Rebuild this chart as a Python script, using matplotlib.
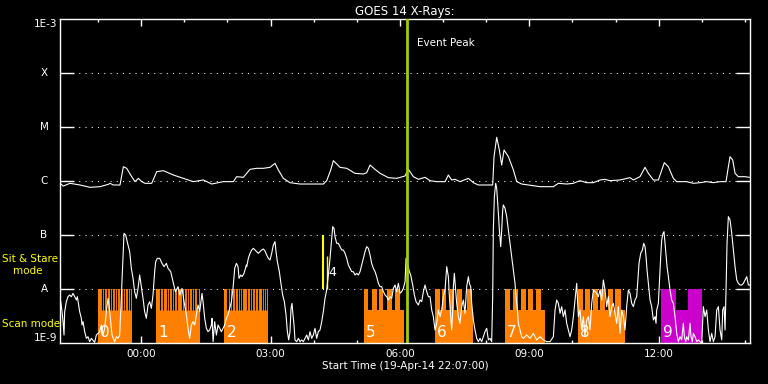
import numpy as np
import matplotlib
matplotlib.use("Agg")
import matplotlib.pyplot as plt
from matplotlib.ticker import FixedLocator, NullLocator

# time in hours since 2014-04-20 00:00 UT, flux as log10(W/m^2)
long_t = [-1.883, -1.806, -1.651, -1.419, -1.187, -0.955, -0.762, -0.723, -0.646, -0.492,
          -0.414, -0.337, -0.221, -0.144, -0.066, 0.011, 0.088, 0.243, 0.359, 0.513,
          0.745, 0.977, 1.209, 1.441, 1.634, 1.904, 2.136, 2.213, 2.368, 2.523,
          2.677, 2.832, 2.987, 3.103, 3.180, 3.296, 3.450, 3.682, 3.992, 4.224,
          4.301, 4.394, 4.456, 4.610, 4.765, 4.958, 5.151, 5.229, 5.306, 5.422,
          5.538, 5.731, 5.924, 6.117, 6.195, 6.311, 6.427, 6.581, 6.697, 6.852,
          7.045, 7.122, 7.199, 7.277, 7.393, 7.586, 7.702, 7.817, 8.011, 8.150,
          8.181, 8.243, 8.305, 8.359, 8.413, 8.514, 8.630, 8.707, 8.823, 9.248,
          9.557, 9.673, 9.866, 10.021, 10.175, 10.330, 10.485, 10.639, 10.755, 10.871,
          11.103, 11.335, 11.412, 11.566, 11.682, 11.760, 11.876, 11.992, 12.130, 12.223,
          12.339, 12.417, 12.649, 12.803, 12.958, 13.113, 13.267, 13.422, 13.561, 13.615,
          13.654, 13.715, 13.770, 13.847, 14.001, 14.102]
long_log = [-6.043, -6.093, -6.043, -6.074, -6.117, -6.105, -6.062, -6.043, -6.074, -6.074,
            -5.735, -5.765, -5.920, -6.012, -5.951, -6.012, -6.043, -6.043, -5.827, -5.809,
            -5.889, -5.951, -6.012, -5.981, -6.056, -6.012, -6.012, -5.920, -5.932, -5.784,
            -5.765, -5.765, -5.747, -5.673, -5.796, -5.951, -6.031, -6.056, -6.056, -6.056,
            -5.994, -5.796, -5.623, -5.747, -5.765, -5.858, -5.870, -5.846, -5.704, -5.784,
            -5.858, -5.938, -5.951, -5.907, -5.784, -5.920, -5.969, -5.932, -5.994, -6.012,
            -6.012, -5.889, -5.981, -5.969, -6.012, -5.951, -6.031, -6.074, -6.074, -6.074,
            -5.549, -5.191, -5.426, -5.704, -5.426, -5.549, -5.796, -6.012, -6.056, -6.105,
            -6.105, -6.043, -6.056, -6.043, -5.994, -6.031, -6.031, -5.981, -5.969, -5.994,
            -5.981, -5.938, -5.981, -5.920, -5.747, -5.858, -5.981, -5.981, -5.660, -5.735,
            -5.951, -6.012, -6.012, -6.043, -6.031, -6.012, -6.031, -6.012, -6.012, -5.735,
            -5.549, -5.611, -5.858, -5.920, -5.920, -5.932]

short_t = [-1.867, -1.836, -1.813, -1.790, -1.775, -1.736, -1.697, -1.659, -1.620, -1.581,
           -1.543, -1.504, -1.481, -1.450, -1.427, -1.388, -1.373, -1.349, -1.311, -1.272,
           -1.234, -1.195, -1.156, -1.079, -1.040, -0.963, -0.925, -0.886, -0.847, -0.808,
           -0.770, -0.747, -0.708, -0.677, -0.615, -0.577, -0.538, -0.499, -0.476, -0.461,
           -0.422, -0.399, -0.360, -0.306, -0.267, -0.229, -0.190, -0.152, -0.113, -0.074,
           -0.036, 0.003, 0.042, 0.080, 0.119, 0.158, 0.196, 0.235, 0.273, 0.312,
           0.335, 0.374, 0.428, 0.482, 0.529, 0.583, 0.622, 0.684, 0.738, 0.792,
           0.854, 0.893, 0.946, 0.993, 1.047, 1.085, 1.124, 1.163, 1.202, 1.240,
           1.279, 1.317, 1.356, 1.410, 1.434, 1.472, 1.511, 1.550, 1.588, 1.627,
           1.643, 1.666, 1.704, 1.743, 1.782, 1.859, 1.936, 1.975, 2.013, 2.052,
           2.091, 2.129, 2.168, 2.207, 2.245, 2.268, 2.307, 2.338, 2.384, 2.438,
           2.446, 2.484, 2.523, 2.562, 2.600, 2.639, 2.677, 2.716, 2.755, 2.793,
           2.832, 2.871, 2.909, 2.948, 2.987, 3.025, 3.064, 3.103, 3.126, 3.157,
           3.203, 3.234, 3.280, 3.319, 3.358, 3.389, 3.420, 3.450, 3.474, 3.497,
           3.512, 3.543, 3.566, 3.605, 3.644, 3.682, 3.721, 3.760, 3.837, 3.876,
           3.914, 3.953, 3.991, 4.030, 4.069, 4.107, 4.146, 4.185, 4.223, 4.262,
           4.301, 4.339, 4.378, 4.417, 4.440, 4.471, 4.494, 4.533, 4.571, 4.610,
           4.649, 4.687, 4.726, 4.765, 4.803, 4.842, 4.881, 4.919, 4.958, 4.997,
           5.035, 5.074, 5.112, 5.151, 5.190, 5.228, 5.267, 5.306, 5.344, 5.383,
           5.422, 5.460, 5.499, 5.538, 5.576, 5.615, 5.654, 5.692, 5.731, 5.770,
           5.808, 5.847, 5.886, 5.924, 5.963, 6.002, 6.040, 6.079, 6.118, 6.141,
           6.172, 6.218, 6.249, 6.295, 6.334, 6.373, 6.427, 6.465, 6.504, 6.543,
           6.581, 6.620, 6.659, 6.697, 6.736, 6.774, 6.813, 6.852, 6.890, 6.929,
           6.968, 7.006, 7.045, 7.084, 7.122, 7.146, 7.176, 7.200, 7.223, 7.238,
           7.261, 7.284, 7.315, 7.354, 7.392, 7.431, 7.470, 7.508, 7.547, 7.586,
           7.609, 7.640, 7.663, 7.702, 7.740, 7.779, 7.818, 7.856, 7.895, 7.934,
           7.972, 8.011, 8.050, 8.088, 8.127, 8.150, 8.165, 8.189, 8.220, 8.243,
           8.282, 8.305, 8.336, 8.359, 8.382, 8.397, 8.436, 8.475, 8.513, 8.552,
           8.590, 8.629, 8.668, 8.691, 8.722, 8.745, 8.784, 8.822, 8.861, 8.938,
           9.016, 9.093, 9.170, 9.248, 9.325, 9.402, 9.480, 9.557, 9.596, 9.634,
           9.673, 9.712, 9.750, 9.789, 9.828, 9.866, 9.905, 9.944, 9.982, 10.021,
           10.059, 10.098, 10.137, 10.175, 10.214, 10.253, 10.291, 10.330, 10.369, 10.407,
           10.446, 10.485, 10.562, 10.600, 10.639, 10.678, 10.716, 10.755, 10.794, 10.832,
           10.871, 10.910, 10.948, 10.987, 11.025, 11.064, 11.103, 11.141, 11.180, 11.219,
           11.257, 11.296, 11.335, 11.373, 11.412, 11.451, 11.489, 11.512, 11.543, 11.582,
           11.621, 11.652, 11.682, 11.706, 11.729, 11.760, 11.799, 11.837, 11.876, 11.915,
           11.938, 11.953, 11.992, 12.015, 12.046, 12.069, 12.100, 12.123, 12.146, 12.170,
           12.193, 12.224, 12.262, 12.301, 12.339, 12.378, 12.417, 12.455, 12.494, 12.533,
           12.571, 12.595, 12.626, 12.649, 12.688, 12.726, 12.749, 12.780, 12.803, 12.842,
           12.881, 12.919, 12.958, 12.997, 13.035, 13.074, 13.113, 13.151, 13.190, 13.229,
           13.267, 13.306, 13.345, 13.383, 13.422, 13.461, 13.484, 13.515, 13.538, 13.561,
           13.584, 13.615, 13.654, 13.693, 13.731, 13.770, 13.809, 13.847, 13.886, 13.925,
           13.963, 14.002, 14.041, 14.079, 14.118]
short_log = [-8.235, -8.420, -8.605, -8.852, -8.420, -8.235, -8.142, -8.111, -8.142, -8.080,
             -8.142, -8.204, -8.142, -8.296, -8.420, -8.543, -8.667, -8.605, -8.790, -8.914,
             -8.883, -8.975, -8.914, -8.988, -8.852, -8.790, -8.667, -8.852, -8.728, -8.420,
             -8.173, -8.296, -8.605, -8.852, -8.975, -8.883, -8.914, -8.852, -8.420, -8.111,
             -7.370, -6.969, -7.000, -7.185, -7.309, -7.617, -7.802, -8.049, -8.173, -7.988,
             -7.741, -7.957, -8.173, -8.420, -8.543, -8.296, -8.235, -8.358, -8.111, -7.679,
             -7.494, -7.432, -7.432, -7.525, -7.586, -7.525, -7.617, -7.679, -7.864, -8.049,
             -7.957, -8.111, -7.988, -8.235, -8.481, -8.728, -8.914, -8.667, -8.605, -8.667,
             -8.481, -8.296, -8.420, -8.080, -8.235, -8.543, -8.728, -8.790, -8.759, -8.667,
             -8.543, -8.975, -8.605, -8.852, -8.667, -8.790, -8.667, -8.543, -8.481, -8.358,
             -8.235, -7.988, -7.617, -7.525, -7.586, -7.802, -7.741, -7.772, -7.710, -7.556,
             -7.586, -7.432, -7.340, -7.278, -7.247, -7.278, -7.309, -7.340, -7.309, -7.278,
             -7.259, -7.296, -7.370, -7.432, -7.463, -7.340, -7.185, -7.123, -7.309, -7.494,
             -7.679, -7.864, -8.111, -8.235, -8.481, -8.790, -8.944, -8.790, -8.358, -8.265,
             -8.420, -8.667, -8.944, -8.975, -8.914, -8.975, -8.944, -8.975, -8.852, -8.944,
             -8.790, -8.914, -8.852, -8.728, -8.914, -8.790, -8.759, -8.605, -8.420, -8.173,
             -8.019, -7.741, -7.432, -7.062, -6.846, -6.877, -7.031, -7.154, -7.154, -7.216,
             -7.278, -7.278, -7.340, -7.432, -7.556, -7.617, -7.679, -7.679, -7.741, -7.710,
             -7.741, -7.679, -7.556, -7.432, -7.309, -7.216, -7.247, -7.370, -7.525, -7.617,
             -7.679, -7.772, -7.895, -7.957, -7.957, -8.049, -8.111, -8.142, -8.204, -8.142,
             -8.173, -7.988, -7.926, -8.049, -7.895, -8.080, -8.049, -7.988, -7.864, -7.432,
             -7.525, -7.679, -7.741, -7.926, -8.111, -8.235, -8.296, -8.204, -8.235, -8.049,
             -7.926, -8.049, -8.142, -8.142, -8.389, -8.512, -8.759, -8.636, -8.389, -8.512,
             -8.389, -8.142, -8.019, -7.586, -7.772, -8.142, -8.512, -8.759, -8.389, -7.957,
             -7.710, -7.957, -8.265, -8.512, -8.636, -8.327, -8.204, -8.451, -7.957, -7.772,
             -7.895, -7.957, -8.265, -8.574, -8.759, -8.914, -8.975, -8.914, -8.975, -8.883,
             -8.790, -8.728, -8.944, -8.914, -8.975, -8.142, -6.907, -6.290, -6.043, -6.136,
             -6.599, -6.907, -7.216, -6.907, -6.537, -6.444, -6.506, -6.660, -6.907, -7.154,
             -7.401, -7.648, -7.895, -8.142, -8.389, -8.636, -8.759, -8.883, -8.914, -8.852,
             -8.914, -8.821, -8.944, -8.883, -8.944, -8.975, -8.975, -8.883, -8.389, -8.204,
             -8.265, -8.451, -8.327, -8.512, -8.389, -8.636, -8.759, -8.883, -8.759, -8.512,
             -8.204, -7.895, -8.512, -8.389, -8.759, -8.512, -8.883, -8.574, -8.512, -8.759,
             -8.265, -8.019, -8.080, -8.142, -8.019, -8.204, -7.833, -8.019, -8.327, -8.142,
             -8.512, -8.327, -8.265, -8.451, -8.636, -8.327, -8.821, -8.389, -8.512, -8.759,
             -8.327, -8.019, -8.080, -8.265, -8.327, -8.204, -8.142, -7.895, -7.525, -7.340,
             -7.278, -7.154, -7.216, -7.401, -7.648, -7.895, -8.204, -8.327, -8.574, -8.512,
             -8.636, -8.389, -8.265, -7.895, -7.401, -7.093, -6.969, -6.938, -7.154, -7.401,
             -7.586, -7.772, -8.019, -8.204, -8.265, -8.512, -8.821, -8.975, -8.883, -8.944,
             -8.636, -8.883, -8.975, -8.883, -8.944, -8.636, -8.883, -8.975, -8.821, -8.883,
             -8.975, -8.944, -8.975, -9.006, -8.327, -8.512, -8.389, -8.759, -8.975, -8.821,
             -8.975, -8.883, -8.389, -8.327, -8.759, -8.944, -8.389, -8.327, -8.759, -8.019,
             -7.154, -6.660, -6.722, -6.969, -7.278, -7.586, -7.833, -7.895, -7.926, -7.926,
             -7.895, -7.833, -7.772, -7.926, -7.926]

# scan-mode rasters
scan_ids = ["0", "1", "2", "5", "6", "7", "8", "9"]
scan_start = [-0.995, 0.343, 1.927, 5.166, 6.813, 8.436, 10.136, 12.046]
scan_end = [-0.220, 1.363, 2.940, 6.094, 7.705, 9.363, 11.218, 13.011]
scan_kind = ["scan", "scan", "scan", "scan", "scan", "scan", "scan", "other"]
scan_tall = [
    [(-0.995, -0.220)],
    [(0.343, 1.363)],
    [(1.927, 2.940)],
    [(5.166, 5.258), (5.351, 5.456), (5.514, 5.618), (5.699, 5.815), (5.885, 6.001)],
    [(6.813, 6.917), (6.975, 7.079), (7.149, 7.242), (7.323, 7.450), (7.543, 7.659)],
    [(8.436, 8.552), (8.621, 8.737), (8.795, 8.911), (8.969, 9.085), (9.155, 9.259)],
    [(10.136, 10.245), (10.291, 10.407), (10.465, 10.593), (10.639, 10.755),
     (10.813, 10.929), (10.987, 11.114)],
    [(12.046, 12.401), (12.686, 13.011)],
]
scan_gaps = [
    [-0.909, -0.863, -0.793, -0.735, -0.677, -0.619, -0.561, -0.492, -0.434, -0.376, -0.318, -0.260],
    [0.436, 0.512, 0.591, 0.645, 0.721, 0.768, 0.823, 0.953, 0.999, 1.055, 1.115, 1.171,
     1.231, 1.287, 1.324],
    [1.983, 2.020, 2.059, 2.112, 2.175, 2.238, 2.291, 2.344, 2.446, 2.523, 2.576, 2.639,
     2.701, 2.794, 2.855, 2.901],
    [], [], [], [], [],
]
scan_low = 4.1e-9
scan_high = 1e-8

# sit & stare observations
stare_t = [4.216, 4.309]
stare_top = [1e-7, 4.1e-8]
stare_width = [1.5, 1.0]

event_t = 6.152

level_vals = [1e-8, 1e-7, 1e-6, 1e-5, 1e-4]
level_names = ["A", "B", "C", "M", "X"]
hour_ticks = [0, 3, 6, 9, 12]
hour_labels = ["00:00", "03:00", "06:00", "09:00", "12:00"]

kind_colors = {"scan": "#ff8000", "other": "#cc00cc"}

fig = plt.figure(figsize=(7.68, 3.84), dpi=100, facecolor="black")
ax = fig.add_axes([60 / 768, 41 / 384, 690 / 768, 324 / 384], facecolor="black")
ax.set_yscale("log")
ax.set_xlim(-1.8833, 14.1167)
ax.set_ylim(1e-9, 1e-3)

for v in level_vals:
    ax.axhline(v, color="white", lw=0.75, ls=(0, (1, 5)), zorder=1)

for i in range(len(scan_ids)):
    c = kind_colors[scan_kind[i]]
    ax.bar(scan_start[i], scan_low - 1e-9, width=scan_end[i] - scan_start[i],
           bottom=1e-9, align="edge", color=c, linewidth=0, zorder=2)
    for s, e in scan_tall[i]:
        ax.bar(s, scan_high - 1e-9, width=e - s, bottom=1e-9, align="edge",
               color=c, linewidth=0, zorder=2)
    if scan_gaps[i]:
        ax.vlines(scan_gaps[i], scan_low, scan_high, color="black", lw=0.8, zorder=2.5)
    ax.annotate(scan_ids[i], xy=(scan_start[i], 1e-9), xytext=(1.5, 2),
                textcoords="offset points", color="white", fontsize=11,
                ha="left", va="bottom", zorder=6)

for t, top, w in zip(stare_t, stare_top, stare_width):
    ax.vlines(t, 1e-8, top, color="yellow", lw=w, zorder=3)
ax.text(4.33, 10 ** -7.69, "4", color="white", fontsize=9, ha="left", va="center", zorder=6)

ax.plot(long_t, 10.0 ** np.array(long_log), color="white", lw=0.8, zorder=4)
ax.plot(short_t, 10.0 ** np.array(short_log), color="white", lw=0.8, zorder=4)

ax.axvline(event_t, color="#a4cc00", lw=2, zorder=5)
ax.annotate("Event Peak", xy=(event_t, 10 ** -3.444), xytext=(7.8, 0),
            textcoords="offset points", color="white", fontsize=7.5, va="center")

# axes styling
for sp in ax.spines.values():
    sp.set_color("white")
    sp.set_linewidth(1)

ax.yaxis.set_major_locator(FixedLocator(level_vals))
ax.yaxis.set_minor_locator(NullLocator())
ax.tick_params(axis="y", which="major", direction="in", length=10, width=1,
               color="white", left=True, right=True, labelleft=False)

ax.set_xticks(hour_ticks)
ax.set_xticklabels(hour_labels)
ax.xaxis.set_minor_locator(FixedLocator(np.arange(-1, 15)))
ax.tick_params(axis="x", which="major", direction="in", length=5, width=1,
               colors="white", top=True, bottom=True, labelsize=7.5, pad=4)
ax.tick_params(axis="x", which="minor", direction="in", length=2.5, width=1,
               color="white", top=True, bottom=True)

yt = ax.get_yaxis_transform()
for v, name in zip(level_vals, level_names):
    ax.text(-0.0232, v, name, transform=yt, color="white", fontsize=7.5,
            ha="center", va="center")
ax.text(-0.0043, 1e-3, "1E-3", transform=yt, color="white", fontsize=7.5, ha="right", va="top")
ax.text(-0.0043, 1e-9, "1E-9", transform=yt, color="white", fontsize=7.5, ha="right", va="bottom")

fig.text(2 / 768, 1 - 259 / 384, "Sit & Stare", color="yellow", fontsize=7.5, va="center")
fig.text(12.7 / 768, 1 - 271 / 384, "mode", color="yellow", fontsize=7.5, va="center")
fig.text(2 / 768, 1 - 324 / 384, "Scan mode", color="yellow", fontsize=7.5, va="center")

ax.set_title("GOES 14 X-Rays:", color="white", fontsize=8.5, pad=3)
ax.set_xlabel("Start Time (19-Apr-14 22:07:00)", color="white", fontsize=7.5, labelpad=2)

fig.savefig("out.png", dpi=100, facecolor="black")
